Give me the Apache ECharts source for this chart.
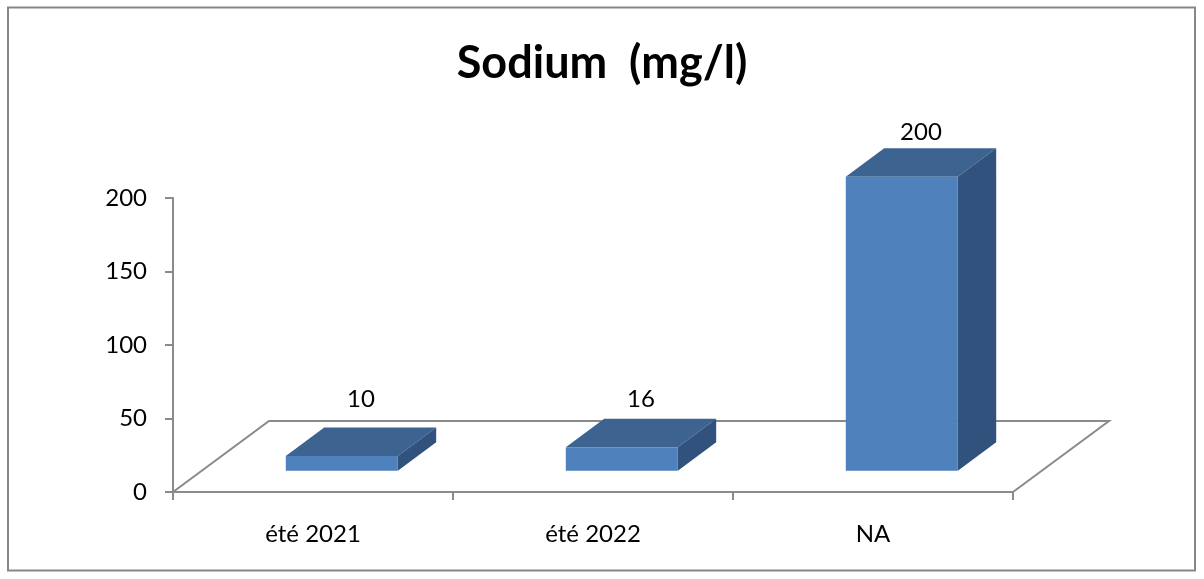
<!DOCTYPE html>
<html>
<head>
<meta charset="utf-8">
<script src="https://cdn.jsdelivr.net/npm/echarts@6/dist/echarts.min.js"></script>
<style>
  html, body { margin: 0; padding: 0; background: #fff; }
  #chart { width: 1204px; height: 579px; }
</style>
</head>
<body>
<div id="chart"></div>
<script>
// Sodium concentration per sampling campaign
const categories = ['été 2021', 'été 2022', 'NA'];
const sodiumValues = [10, 16, 200];
const yTicks = { min: 0, max: 200, interval: 50 };
const chartTitle = 'Sodium  (mg/l)';

// Pseudo-3D geometry (pixels): depth of the floor and how bars sit in it
const FLOOR_DX = 96;
const FLOOR_DY = -71;
const BAR_FRONT = 0.3;   // fraction of floor depth where bar fronts sit
const BAR_DEPTH = 0.4;   // fraction of floor depth taken by a bar
const BAR_WIDTH = 0.4;   // fraction of the category band

const FONT = 'Lato, "Open Sans", sans-serif';
const LABEL_SIZE = 24;
const AXIS_GREY = '#8a8a8a';
const FRONT_COLOR = '#4f81bd';
const TOP_COLOR = '#3d6391';
const SIDE_COLOR = '#31527c';

const barData = categories.map((c, i) => [i, sodiumValues[i]]);

const chart = echarts.init(document.getElementById('chart'), null, { renderer: 'canvas' });

chart.setOption({
  animation: false,
  backgroundColor: '#fff',
  title: {
    text: chartTitle,
    left: 'center',
    top: 36,
    textStyle: { fontFamily: FONT, fontWeight: 'bold', fontSize: 45, color: '#000' }
  },
  graphic: [{
    type: 'rect',
    shape: { x: 8, y: 7.5, width: 1187, height: 563 },
    style: { fill: 'none', stroke: '#878787', lineWidth: 2 },
    silent: true,
    z: -1
  }],
  grid: { left: 173, right: 191, top: 198, bottom: 87, containLabel: false },
  xAxis: {
    type: 'category',
    data: categories,
    boundaryGap: true,
    axisLine: { show: true, lineStyle: { color: AXIS_GREY, width: 2 } },
    axisTick: { show: true, length: 8, inside: false, lineStyle: { color: AXIS_GREY, width: 2 } },
    axisLabel: { margin: 30, fontFamily: FONT, fontSize: LABEL_SIZE, color: '#000' },
    splitLine: { show: false }
  },
  yAxis: {
    type: 'value',
    min: yTicks.min,
    max: yTicks.max,
    interval: yTicks.interval,
    axisLine: { show: true, lineStyle: { color: AXIS_GREY, width: 2 } },
    axisTick: { show: true, length: 8, lineStyle: { color: AXIS_GREY, width: 2 } },
    axisLabel: { margin: 26, fontFamily: FONT, fontSize: LABEL_SIZE, color: '#000' },
    splitLine: { show: false }
  },
  series: [
    {
      // floor of the 3D plot area
      type: 'custom',
      name: 'floor',
      silent: true,
      z: 1,
      data: [[0, 0]],
      renderItem: function (params, api) {
        const band = api.size([1, 0])[0];
        const first = api.coord([0, 0]);
        const last = api.coord([categories.length - 1, 0]);
        const x0 = first[0] - band / 2;
        const x1 = last[0] + band / 2;
        const y = first[1];
        return {
          type: 'polyline',
          shape: {
            points: [
              [x0, y],
              [x0 + FLOOR_DX, y + FLOOR_DY],
              [x1 + FLOOR_DX, y + FLOOR_DY],
              [x1, y]
            ]
          },
          style: { stroke: AXIS_GREY, lineWidth: 2, fill: 'none' }
        };
      }
    },
    {
      type: 'custom',
      name: 'Sodium',
      z: 3,
      data: barData,
      encode: { x: 0, y: 1 },
      renderItem: function (params, api) {
        const idx = api.value(0);
        const val = api.value(1);
        const base = api.coord([idx, 0]);
        const top = api.coord([idx, val]);
        const band = api.size([1, 0])[0];
        const w = band * BAR_WIDTH;
        const fx = base[0] - w / 2 + FLOOR_DX * BAR_FRONT;
        const fy0 = base[1] + FLOOR_DY * BAR_FRONT;
        const fy1 = top[1] + FLOOR_DY * BAR_FRONT;
        const dx = FLOOR_DX * BAR_DEPTH;
        const dy = FLOOR_DY * BAR_DEPTH;
        const floorBackY = base[1] + FLOOR_DY;
        const labelY = Math.min(fy1 + dy - 16, floorBackY - 22);
        return {
          type: 'group',
          children: [
            {
              type: 'polygon',
              shape: { points: [[fx, fy1], [fx + w, fy1], [fx + w + dx, fy1 + dy], [fx + dx, fy1 + dy]] },
              style: { fill: TOP_COLOR }
            },
            {
              type: 'polygon',
              shape: { points: [[fx + w, fy1], [fx + w + dx, fy1 + dy], [fx + w + dx, fy0 + dy], [fx + w, fy0]] },
              style: { fill: SIDE_COLOR }
            },
            {
              type: 'rect',
              shape: { x: fx, y: fy1, width: w, height: fy0 - fy1 },
              style: { fill: FRONT_COLOR }
            },
            {
              type: 'text',
              style: {
                text: String(val),
                x: fx + w / 2 + dx / 2,
                y: labelY,
                align: 'center',
                verticalAlign: 'middle',
                font: LABEL_SIZE + 'px ' + FONT,
                fill: '#000'
              }
            }
          ]
        };
      }
    }
  ]
});
</script>
</body>
</html>
